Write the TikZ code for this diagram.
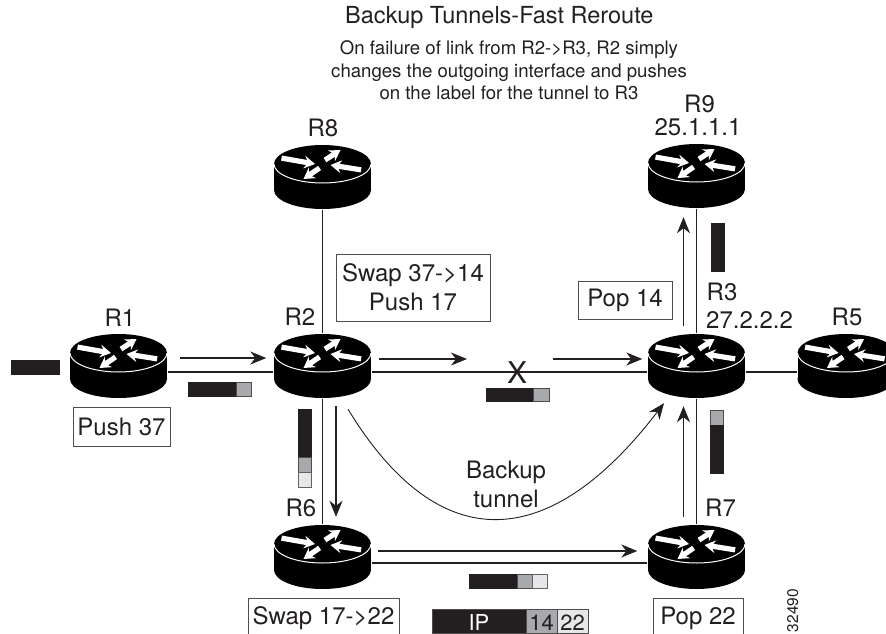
\documentclass[tikz,border=0pt]{standalone}
\usepackage{fontspec}
\setmainfont{TeX Gyre Heros}
\usepackage{tikz}
\usetikzlibrary{arrows.meta}
\definecolor{inkdark}{HTML}{231F20}
\definecolor{pktgray}{HTML}{A7A9AC}
\definecolor{pktlight}{HTML}{E6E7E8}
% tip x, tip y, direction, length
\newcommand{\routerarrow}[4]{
  \fill[white, shift={(#1,#2)}, rotate=#3] (0,0) -- (-11,6.5) -- (-8.5,2.6) -- (-#4,2.6) -- (-#4,-2.6) -- (-8.5,-2.6) -- (-11,-6.5) -- cycle;
}

\begin{document}
\begin{tikzpicture}[
    x=1pt, y=-1pt, >=Stealth, line cap=butt,
    router/.pic     ={
        \begin{scope}[y=1pt]
          \fill[black] (0,-13) ellipse [x radius=48.5pt, y radius=19pt];
          \fill[black] (-48.5,-13) rectangle (48.5,13);
          \fill[black] (0,13) ellipse [x radius=48.5pt, y radius=19pt];
          \draw[white, line width=1pt] (-48.5,13) arc [start angle=180, end angle=360, x radius=48.5pt, y radius=19pt];
          \routerarrow{-7.5}{13}{-10}{34}
          \routerarrow{18}{27}{33}{18.5}
          \routerarrow{8}{12}{171}{31}
          \routerarrow{-19}{-2}{214.5}{19.5}
        \end{scope}},
    routerbox/.style={minimum width=98pt, minimum height=65pt, inner sep=0pt},
    link/.style     ={draw=inkdark, line width=1.1pt},
    flow/.style     ={draw=inkdark, line width=1.1pt, -{Stealth[length=16pt,width=13pt,inset=5pt]}},
    pktdark/.style  ={fill=inkdark, draw=inkdark, line width=0.6pt},
    pktmid/.style   ={fill=pktgray, draw=inkdark!80, line width=0.6pt},
    pktpale/.style  ={fill=pktlight, draw=inkdark!70, line width=0.6pt},
    rlab/.style     ={font=\fontsize{24}{29}\selectfont, text=inkdark, anchor=base, inner sep=0pt},
    opbox/.style    ={font=\fontsize{24}{29}\selectfont, text=inkdark, draw=inkdark!80, line width=0.8pt, align=center, inner sep=0pt},
    cutbox/.style   ={opbox, anchor=base, text height=26pt, text depth=34pt},
    ipcell/.style   ={font=\fontsize{22}{26}\selectfont, anchor=base, inner sep=0pt, text height=21pt, text depth=3.5pt, draw=inkdark!80, line width=0.6pt}
]
\clip (0,0) rectangle (886,634);

% routers
\foreach \rname/\rx/\ry in {r1/118.5/366, r2/322.5/366, r3/696.5/366, r5/846/366, r6/322.5/557, r7/696.5/557, r8/322.5/177, r9/696.5/176} {
  \pic at (\rx,\ry) {router};
  \node[routerbox] (\rname) at (\rx,\ry) {};
}

% links
\draw[link] ([yshift=-6pt]r1.east) -- ([yshift=-6pt]r2.west);
\draw[link] ([yshift=-6pt]r2.east) -- ([yshift=-6pt]r3.west);
\draw[link] ([yshift=-6pt]r3.east) -- ([yshift=-6pt]r5.west);
\draw[link] ([yshift=-6pt]r6.east) -- ([yshift=-6pt]r7.west);
\draw[link] (r8) -- (r2);
\draw[link] (r2) -- (r6);
\draw[link] (r9) -- (r3);
\draw[link] (r3) -- (r7);

% traffic arrows
\coordinate (failin) at (467,359);
\coordinate (failout) at (553,359);
\draw[flow] ([xshift=12.5pt,yshift=8pt]r1.east) -- ([xshift=-7pt,yshift=8pt]r2.west);
\draw[flow] ([xshift=7.5pt,yshift=7pt]r2.east) -- (failin);
\draw[flow] (failout) -- ([xshift=-5pt,yshift=7pt]r3.west);
\draw[flow] ([xshift=13.5pt,yshift=-7.5pt]r2.south) -- ([xshift=13.5pt,yshift=7.5pt]r6.north);
\draw[flow] ([xshift=6.5pt,yshift=6pt]r6.east) -- ([xshift=-10pt,yshift=6pt]r7.west);
\draw[flow] ([xshift=-13pt,yshift=7.5pt]r7.north) -- ([xshift=-13pt,yshift=-7.5pt]r3.south);
\draw[flow] ([xshift=-13pt,yshift=7pt]r3.north) -- ([xshift=-13pt,yshift=-8.5pt]r9.south);

% backup tunnel
\draw[draw=inkdark, line width=0.9pt, -{Stealth[length=16pt,width=13pt,inset=5pt]}]
  ([xshift=25.5pt,yshift=-10.5pt]r2.south) .. controls (440,560) and (550,552) .. ([xshift=-32.5pt,yshift=-4.5pt]r3.south);

% packets
\draw[pktdark] (11,360) rectangle (59,374);
\draw[pktdark] (188,382) rectangle (236,396);
\draw[pktmid] (236,382) rectangle (251,396);
\draw[pktdark] (486,388) rectangle (533,401);
\draw[pktmid] (533,388) rectangle (549,401);
\draw[pktdark] (298,409) rectangle (311,457);
\draw[pktmid] (298,457) rectangle (311,472);
\draw[pktpale] (298,472) rectangle (311,487);
\draw[pktdark] (711,223) rectangle (724,271);
\draw[pktmid] (710,410) rectangle (723,425);
\draw[pktdark] (710,425) rectangle (723,473);
\draw[pktdark] (469,574) rectangle (517,588);
\draw[pktmid] (517,574) rectangle (532,588);
\draw[pktpale] (532,574) rectangle (547,588);

% router labels
\node[rlab] (lr1) at (120,326) {R1};
\node[rlab] (lr2) at (300,325) {R2};
\node[rlab] (lr8) at (323,136) {R8};
\node[rlab] (lr9) at (699.5,112) {R9};
\node[rlab] (ip9) at (698,135) {25.1.1.1};
\node[rlab, anchor=base west] (lr3) at (706.5,300) {R3};
\node[rlab, anchor=base west] (ip3) at (706,328) {27.2.2.2};
\node[rlab] (lr5) at (847,325) {R5};
\node[rlab] (lr6) at (301,516) {R6};
\node[rlab, anchor=base west] (lr7) at (705,516) {R7};
\node[rlab, font=\fontsize{30}{30}\selectfont] (failx) at (517,383) {X};
\node[rlab, align=center, anchor=base] (tunlab) at (506,507) {Backup\\tunnel};

% operation boxes
\node[opbox, minimum width=97pt, minimum height=39pt] (boxpush) at (121.5,426.5) {Push 37};
\node[opbox, minimum width=154pt, minimum height=67pt] (boxswap) at (413,287.5) {Swap 37->14\\Push 17};
\node[opbox, minimum width=94pt, minimum height=38pt] (boxpop) at (625,300) {Pop 14};
\node[cutbox, minimum width=151pt] (boxswapb) at (323.5,624) {Swap 17->22};
\node[cutbox, minimum width=90pt] (boxpopb) at (698,624) {Pop 22};

% label stack
\node[ipcell, fill=inkdark, text=white, minimum width=94pt] (cellip) at (479,630) {IP};
\node[ipcell, fill=pktgray, text=inkdark, minimum width=31pt] (cella) at (541.5,630) {14};
\node[ipcell, fill=pktlight, text=inkdark, minimum width=31pt] (cellb) at (572.5,630) {22};

% header
\node[anchor=base west, inner sep=0pt, text=inkdark, font=\fontsize{23.5}{28}\selectfont] (title) at (345,24) {Backup Tunnels-Fast Reroute};
\node[anchor=base, inner sep=0pt, text=inkdark, align=center, font=\fontsize{18.6}{22.3}\selectfont] (subtitle) at (509,99.5) {On failure of link from R2->R3, R2 simply\\changes the outgoing interface and pushes\\on the label for the tunnel to R3};

\node[anchor=base, rotate=90, inner sep=0pt, text=inkdark, font=\fontsize{15.5}{16}\selectfont] (figid) at (798,610.5) {32490};
\end{tikzpicture}
\end{document}
